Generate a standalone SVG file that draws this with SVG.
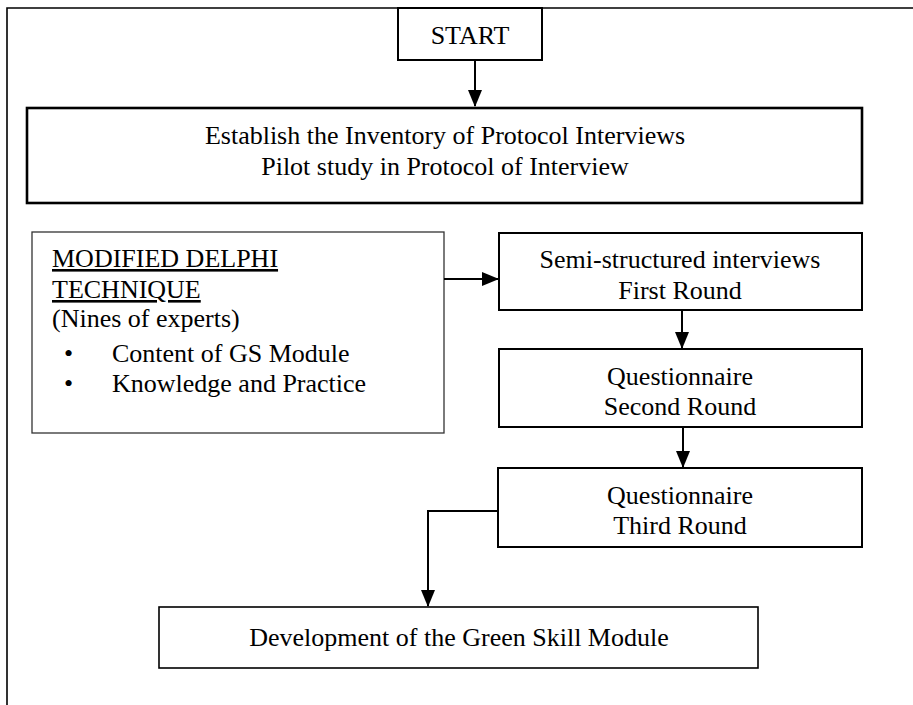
<svg xmlns="http://www.w3.org/2000/svg" width="913" height="705" viewBox="0 0 913 705">
<defs>
<marker id="ah" markerWidth="17" markerHeight="14" refX="16" refY="7" orient="auto" markerUnits="userSpaceOnUse" viewBox="0 0 17 14">
<path d="M0,0 L17,7 L0,14 Z" fill="#000"/>
</marker>
<style>
.box{fill:#fff;stroke:#000;stroke-width:2}
.thick{stroke-width:2.6}
.thin{stroke:#333;stroke-width:1.3}
.t{font-family:"Liberation Serif","Times New Roman",serif;font-size:26px;fill:#000}
.c{text-anchor:middle}
.conn{fill:none;stroke:#000;stroke-width:2}
.frame{fill:none;stroke:#000;stroke-width:1.6}
</style>
</defs>
<rect width="913" height="705" fill="#fff"/>
<path class="frame" d="M7,705 L7,8 L913,8"/>

<g id="start">
<rect class="box" x="398" y="8" width="144" height="52"/>
<text class="t c" x="470" y="44">START</text>
</g>

<g id="establish">
<rect class="box thick" x="27" y="108" width="835" height="95"/>
<text class="t c" x="445" y="144">Establish the Inventory of Protocol Interviews</text>
<text class="t c" x="445" y="175">Pilot study in Protocol of Interview</text>
</g>

<g id="delphi">
<rect class="box thin" x="32" y="232" width="412" height="201"/>
<text class="t" x="52" y="267" text-decoration="underline">MODIFIED DELPHI</text>
<text class="t" x="52" y="298" text-decoration="underline">TECHNIQUE</text>
<text class="t" x="52" y="327">(Nines of experts)</text>
<text class="t" x="64" y="362">•</text>
<text class="t" x="112" y="362">Content of GS Module</text>
<text class="t" x="64" y="392">•</text>
<text class="t" x="112" y="392">Knowledge and Practice</text>
</g>

<g id="round1">
<rect class="box" x="499" y="233" width="363" height="77"/>
<text class="t c" x="680" y="268">Semi-structured interviews</text>
<text class="t c" x="680" y="299">First Round</text>
</g>

<g id="round2">
<rect class="box" x="499" y="349" width="363" height="78"/>
<text class="t c" x="680" y="385">Questionnaire</text>
<text class="t c" x="680" y="415">Second Round</text>
</g>

<g id="round3">
<rect class="box" x="498" y="468" width="364" height="79"/>
<text class="t c" x="680" y="504">Questionnaire</text>
<text class="t c" x="680" y="534">Third Round</text>
</g>

<g id="development">
<rect class="box" x="159" y="607" width="599" height="61" style="stroke-width:1.6"/>
<text class="t c" x="459" y="646">Development of the Green Skill Module</text>
</g>

<g id="connectors">
<path class="conn" d="M475,60 L475,106" marker-end="url(#ah)"/>
<path class="conn" d="M444,279 L498,279" marker-end="url(#ah)"/>
<path class="conn" d="M682,310 L682,348" marker-end="url(#ah)"/>
<path class="conn" d="M683,427 L683,467" marker-end="url(#ah)"/>
<path class="conn" d="M498,511 L428,511 L428,606" marker-end="url(#ah)"/>
</g>
</svg>
